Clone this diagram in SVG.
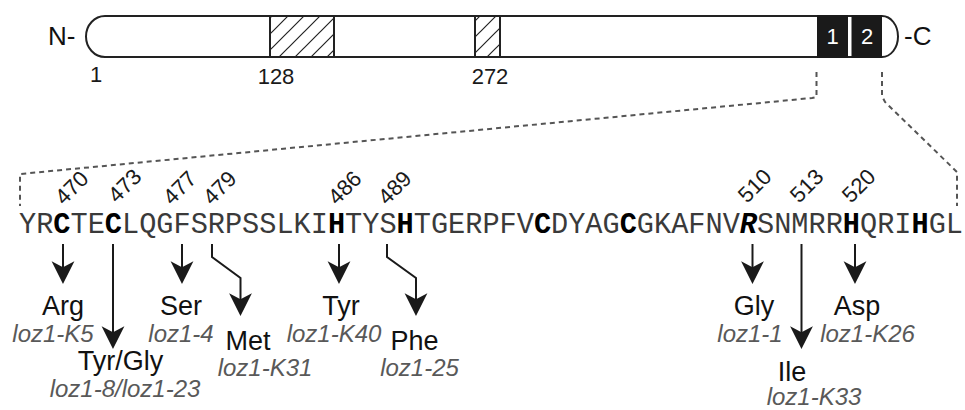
<svg xmlns="http://www.w3.org/2000/svg" width="965" height="410" viewBox="0 0 965 410">
<defs>
  <pattern id="hatch" patternUnits="userSpaceOnUse" width="16" height="16">
    <path d="M-4,4 L4,-4 M0,16 L16,0 M12,20 L20,12" stroke="#222" stroke-width="1.2"/>
  </pattern>
  <marker id="ah" markerUnits="userSpaceOnUse" markerWidth="24" markerHeight="24" refX="0" refY="0" viewBox="-14 -10 20 20" orient="auto" overflow="visible">
    <path d="M5,0 L-14,-9.5 L-9,0 L-14,9.5 Z" fill="#1a1a1a"/>
  </marker>
  <style>
    .sans{font-family:"Liberation Sans",Arial,sans-serif;}
    .num{font-family:"Liberation Sans",Arial,sans-serif;font-size:22px;fill:#1a1a1a;}
    .aa{font-family:"Liberation Sans",Arial,sans-serif;font-size:27px;fill:#111;text-anchor:middle;}
    .allele{font-family:"Liberation Sans",Arial,sans-serif;font-size:24px;font-style:italic;fill:#595959;text-anchor:middle;}
    .seq{font-family:"Liberation Mono","Courier New",monospace;font-size:28.6px;fill:#3a3a3a;}
    .b{font-weight:bold;fill:#000;}
    .dash{fill:none;stroke:#555;stroke-width:2;stroke-dasharray:5 4;}
    .arr{fill:none;stroke:#1a1a1a;stroke-width:2;marker-end:url(#ah);}
  </style>
</defs>
<rect width="965" height="410" fill="#fff"/>

<g id="protein">
  <path d="M105,16 L882,16 A16,20.5 0 0 1 882,57 L105,57 A19,20.5 0 0 1 105,16 Z" fill="#fff" stroke="#222" stroke-width="2"/>
  <rect x="270" y="16" width="64" height="41" fill="url(#hatch)" stroke="#222" stroke-width="2"/>
  <rect x="475" y="16" width="25" height="41" fill="url(#hatch)" stroke="#222" stroke-width="2"/>
  <rect x="817" y="15" width="31" height="43" fill="#1a1a1a"/>
  <rect x="851.5" y="15" width="30.5" height="43" fill="#1a1a1a"/>
  <text x="832.5" y="44" class="sans" font-size="22" fill="#fff" text-anchor="middle">1</text>
  <text x="867" y="44" class="sans" font-size="22" fill="#fff" text-anchor="middle">2</text>
  <text x="48" y="45" class="sans" font-size="26" fill="#111">N-</text>
  <text x="904" y="45" class="sans" font-size="26" fill="#111">-C</text>
  <text x="96" y="82" class="num" text-anchor="middle">1</text>
  <text x="276" y="84" class="num" text-anchor="middle">128</text>
  <text x="490" y="84" class="num" text-anchor="middle">272</text>
</g>

<g id="sequence">
  <text x="19" y="233" class="seq">YR<tspan class="b">C</tspan>TE<tspan class="b">C</tspan>LQGFSRPSSLKI<tspan class="b">H</tspan>TYS<tspan class="b">H</tspan>TGERPFV<tspan class="b">C</tspan>DYAG<tspan class="b">C</tspan>GKAFNV<tspan class="b" font-style="italic">R</tspan>SNMRR<tspan class="b">H</tspan>QRI<tspan class="b">H</tspan>GL</text>
  <g class="num">
    <text transform="translate(64,206) rotate(-45)">470</text>
    <text transform="translate(117,204) rotate(-45)">473</text>
    <text transform="translate(172,206) rotate(-45)">477</text>
    <text transform="translate(212,206) rotate(-45)">479</text>
    <text transform="translate(337,206) rotate(-45)">486</text>
    <text transform="translate(387,206) rotate(-45)">489</text>
    <text transform="translate(747,204) rotate(-45)">510</text>
    <text transform="translate(799,204) rotate(-45)">513</text>
    <text transform="translate(851,204) rotate(-45)">520</text>
  </g>
</g>

<g id="connectors">
  <path class="dash" d="M816.5,72 L816.5,97 L812,98 L20,174 L20,206"/>
  <path class="dash" d="M882,72 L882,96 L885,102 L957,172 L957,206"/>
  <path class="arr" d="M63,244 L63,278"/>
  <path class="arr" d="M113,244 L113,343"/>
  <path class="arr" d="M182,244 L182,278"/>
  <path class="arr" d="M212,244 L212,257 L240.5,278 L240.5,310"/>
  <path class="arr" d="M339,244 L339,278"/>
  <path class="arr" d="M387,244 L387,257 L416,278 L416,310"/>
  <path class="arr" d="M752.5,244 L752.5,278"/>
  <path class="arr" d="M801.5,244 L801.5,343"/>
  <path class="arr" d="M855,244 L855,278"/>
</g>

<g id="mut-arg"><text x="63" y="315" class="aa">Arg</text><text x="53" y="342" class="allele">loz1-K5</text></g>
<g id="mut-tyrgly"><text x="120.5" y="370" class="aa">Tyr/Gly</text><text x="125" y="397" class="allele">loz1-8/loz1-23</text></g>
<g id="mut-ser"><text x="181" y="315" class="aa">Ser</text><text x="181" y="342" class="allele">loz1-4</text></g>
<g id="mut-met"><text x="248" y="350" class="aa">Met</text><text x="265" y="376" class="allele">loz1-K31</text></g>
<g id="mut-tyr"><text x="341" y="315" class="aa">Tyr</text><text x="334" y="342" class="allele">loz1-K40</text></g>
<g id="mut-phe"><text x="414.5" y="350" class="aa">Phe</text><text x="419.5" y="376" class="allele">loz1-25</text></g>
<g id="mut-gly"><text x="754" y="315" class="aa">Gly</text><text x="750" y="342" class="allele">loz1-1</text></g>
<g id="mut-asp"><text x="857" y="315" class="aa">Asp</text><text x="867.5" y="342" class="allele">loz1-K26</text></g>
<g id="mut-ile"><text x="792" y="381" class="aa">Ile</text><text x="814" y="405" class="allele">loz1-K33</text></g>
</svg>
